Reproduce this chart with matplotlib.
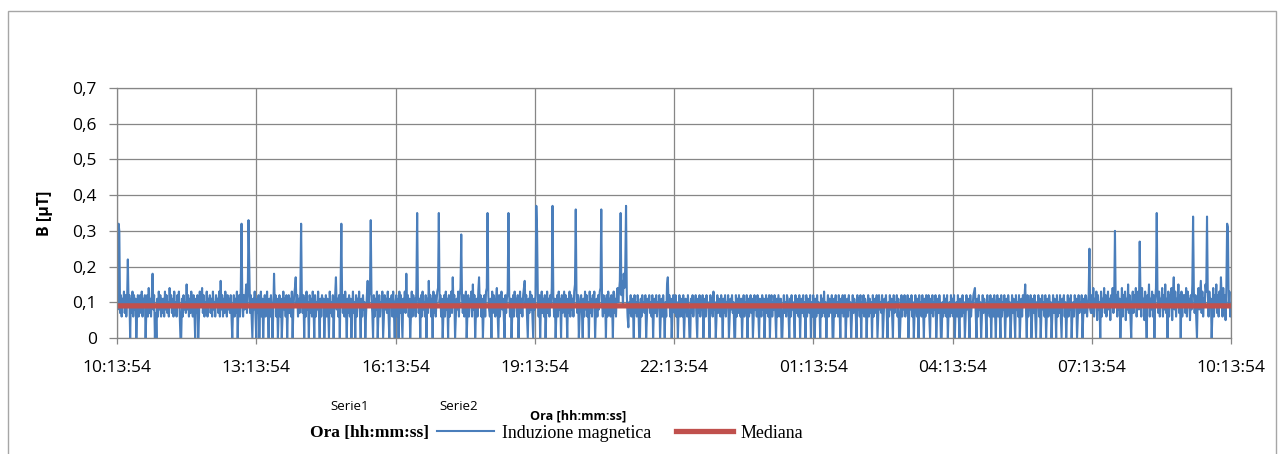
import numpy as np
import pandas as pd
import matplotlib
matplotlib.use('Agg')
import matplotlib.pyplot as plt
import matplotlib.dates as mdates
from matplotlib.ticker import FuncFormatter
from matplotlib.patches import Rectangle

# Start of the 24 h recording and sample step
START_TIME = '2012-01-01 10:13:54'
SAMPLE_STEP = '1min'

# Magnetic induction in hundredths of uT, two rows per hour (30 + 30 samples)
# 10:13:54 - 21:13:54
B_DAY_CENTI = [
    14, 8, 32, 30, 7, 12, 6, 11, 9, 13, 7, 12, 6, 10, 22, 9, 12, 0, 11, 7, 13, 6, 12, 8, 11, 0, 7, 12, 6, 10,
    12, 7, 13, 6, 11, 9, 12, 0, 8, 12, 6, 14, 7, 11, 6, 12, 18, 8, 12, 0, 7, 0, 11, 6, 13, 8, 12, 6, 11, 7,
    11, 6, 13, 8, 12, 7, 10, 6, 14, 9, 12, 7, 11, 6, 13, 8, 10, 6, 12, 9, 13, 7, 0, 0, 11, 6, 12, 8, 10, 7,
    15, 8, 12, 6, 11, 7, 13, 9, 6, 12, 8, 0, 11, 7, 12, 0, 6, 13, 9, 11, 14, 7, 12, 6, 10, 8, 13, 6, 11, 9,
    12, 7, 11, 6, 13, 8, 10, 6, 12, 9, 11, 7, 13, 6, 16, 8, 12, 6, 11, 7, 13, 9, 6, 12, 8, 11, 7, 12, 6, 0,
    8, 12, 6, 11, 7, 13, 0, 9, 12, 6, 14, 32, 10, 6, 12, 8, 11, 15, 7, 12, 33, 20, 7, 12, 6, 0, 11, 8, 13, 6,
    0, 11, 7, 12, 0, 9, 13, 6, 11, 0, 8, 12, 6, 10, 13, 7, 0, 11, 6, 12, 8, 0, 7, 18, 9, 12, 6, 11, 0, 8,
    12, 6, 11, 0, 7, 13, 8, 11, 6, 12, 0, 9, 12, 7, 11, 6, 13, 0, 8, 12, 14, 17, 9, 12, 6, 11, 7, 13, 32, 10,
    7, 12, 0, 11, 6, 13, 8, 10, 0, 12, 7, 11, 6, 13, 9, 0, 12, 6, 10, 8, 13, 7, 0, 11, 6, 12, 9, 11, 0, 7,
    12, 6, 11, 8, 0, 13, 7, 10, 6, 12, 0, 9, 12, 17, 8, 11, 6, 12, 0, 14, 32, 11, 7, 12, 6, 13, 8, 0, 11, 7,
    12, 6, 11, 0, 8, 13, 7, 10, 0, 12, 6, 11, 9, 13, 7, 0, 11, 6, 12, 8, 10, 0, 7, 12, 16, 9, 12, 13, 33, 11,
    7, 0, 12, 6, 11, 8, 13, 0, 7, 12, 6, 10, 9, 13, 0, 6, 12, 8, 11, 7, 13, 6, 0, 11, 9, 12, 6, 13, 7, 0,
    10, 12, 6, 11, 0, 13, 7, 12, 6, 0, 11, 8, 13, 7, 18, 9, 12, 6, 11, 0, 7, 13, 6, 12, 8, 11, 6, 14, 35, 12,
    7, 11, 0, 12, 6, 13, 8, 10, 6, 12, 0, 11, 7, 16, 9, 12, 6, 11, 0, 13, 7, 12, 6, 10, 13, 14, 35, 10, 12, 6,
    11, 0, 7, 12, 6, 13, 8, 11, 0, 12, 6, 10, 13, 7, 17, 9, 12, 0, 6, 11, 8, 13, 6, 12, 14, 29, 11, 7, 12, 6,
    10, 13, 0, 7, 12, 6, 11, 9, 13, 6, 15, 8, 12, 0, 7, 11, 6, 13, 17, 9, 12, 6, 11, 0, 8, 12, 6, 13, 14, 35,
    12, 8, 6, 11, 0, 13, 7, 12, 9, 6, 11, 14, 7, 0, 12, 6, 10, 13, 8, 11, 6, 0, 12, 7, 11, 13, 35, 12, 6, 11,
    0, 7, 12, 6, 13, 9, 11, 6, 12, 0, 8, 13, 7, 11, 6, 12, 14, 16, 9, 12, 6, 0, 11, 7, 13, 8, 12, 6, 0, 11,
    8, 12, 37, 30, 11, 6, 12, 0, 9, 13, 7, 11, 6, 12, 0, 8, 13, 7, 11, 6, 12, 9, 14, 37, 12, 6, 11, 0, 7, 12,
    6, 13, 8, 11, 0, 12, 7, 10, 13, 6, 12, 9, 0, 11, 7, 13, 6, 12, 8, 11, 6, 13, 15, 36, 11, 7, 12, 0, 6, 11,
    12, 7, 0, 11, 6, 13, 8, 12, 6, 10, 0, 13, 7, 11, 6, 12, 9, 13, 0, 7, 11, 6, 12, 8, 13, 14, 36, 10, 6, 12,
    7, 11, 0, 12, 6, 13, 8, 11, 6, 12, 9, 0, 13, 7, 11, 6, 12, 14, 10, 13, 16, 35, 12, 16, 9, 18, 14, 20, 37, 12,
]

# 21:13:54 - 07:13:54
B_NIGHT_CENTI = [
    6, 3, 10, 7, 12, 6, 11, 8, 0, 12, 7, 10, 6, 12, 9, 0, 0, 11, 6, 12, 8, 10, 7, 12, 0, 6, 11, 9, 12, 7,
    10, 6, 12, 0, 8, 11, 7, 12, 6, 10, 9, 12, 0, 7, 11, 6, 12, 8, 0, 10, 6, 15, 17, 9, 12, 6, 11, 0, 7, 12,
    11, 7, 12, 6, 10, 0, 8, 12, 6, 11, 9, 6, 12, 0, 7, 11, 10, 6, 12, 8, 0, 0, 11, 7, 12, 6, 10, 9, 12, 6,
    0, 11, 7, 12, 6, 10, 8, 12, 0, 7, 11, 6, 12, 9, 10, 6, 0, 12, 7, 11, 6, 13, 8, 10, 0, 6, 12, 7, 11, 9,
    6, 12, 8, 0, 11, 7, 12, 6, 10, 9, 12, 0, 6, 11, 8, 12, 7, 10, 0, 0, 12, 6, 11, 7, 12, 9, 6, 11, 0, 8,
    12, 6, 10, 7, 12, 0, 11, 6, 9, 12, 7, 11, 0, 6, 12, 8, 10, 6, 12, 7, 0, 11, 9, 6, 12, 8, 11, 0, 7, 12,
    7, 11, 6, 12, 0, 9, 12, 6, 10, 8, 12, 7, 0, 11, 6, 12, 9, 6, 11, 0, 0, 8, 12, 7, 10, 6, 12, 11, 7, 0,
    11, 6, 12, 8, 10, 6, 0, 12, 7, 11, 9, 6, 12, 0, 8, 11, 7, 12, 6, 10, 0, 12, 6, 11, 8, 7, 12, 0, 10, 6,
    12, 8, 0, 11, 6, 12, 7, 10, 9, 0, 12, 6, 11, 7, 13, 6, 10, 0, 8, 12, 6, 11, 9, 7, 12, 0, 0, 11, 6, 12,
    7, 10, 6, 12, 8, 0, 11, 7, 12, 6, 9, 12, 0, 7, 11, 6, 12, 8, 10, 0, 6, 12, 7, 11, 9, 6, 0, 12, 8, 11,
    6, 12, 0, 10, 7, 12, 6, 11, 9, 0, 8, 12, 6, 11, 7, 10, 0, 12, 6, 9, 11, 7, 12, 0, 6, 12, 8, 10, 7, 12,
    0, 6, 11, 9, 12, 7, 0, 10, 6, 12, 8, 11, 6, 0, 12, 7, 10, 9, 12, 6, 11, 0, 0, 7, 12, 6, 11, 8, 12, 6,
    10, 7, 12, 0, 6, 11, 8, 12, 6, 10, 0, 7, 12, 9, 6, 11, 0, 12, 7, 10, 6, 12, 8, 0, 11, 6, 12, 7, 9, 12,
    6, 0, 11, 7, 12, 6, 10, 8, 12, 0, 6, 11, 7, 12, 9, 0, 0, 10, 6, 12, 7, 11, 6, 12, 0, 8, 10, 6, 12, 7,
    11, 6, 12, 0, 8, 10, 6, 12, 7, 0, 11, 9, 6, 12, 7, 10, 0, 6, 12, 8, 11, 7, 0, 12, 6, 10, 9, 12, 13, 14,
    7, 0, 11, 6, 12, 8, 10, 0, 6, 12, 7, 11, 9, 6, 0, 12, 7, 10, 6, 12, 0, 8, 11, 6, 12, 7, 0, 10, 12, 6,
    11, 7, 0, 12, 6, 10, 8, 12, 0, 7, 11, 6, 12, 9, 10, 0, 6, 12, 7, 11, 6, 0, 12, 8, 10, 6, 12, 0, 7, 11,
    6, 12, 9, 11, 15, 7, 0, 12, 6, 10, 8, 12, 0, 6, 11, 7, 12, 6, 0, 10, 9, 12, 6, 11, 0, 7, 12, 8, 10, 6,
    12, 0, 7, 11, 6, 12, 9, 10, 0, 6, 12, 7, 11, 8, 0, 12, 6, 10, 7, 12, 6, 0, 11, 9, 12, 6, 10, 0, 7, 12,
    6, 11, 8, 12, 0, 7, 10, 6, 12, 9, 11, 0, 6, 12, 7, 10, 8, 12, 0, 6, 11, 7, 12, 9, 6, 10, 12, 25, 8, 7,
]

# 07:13:54 - 10:13:54
B_MORNING_CENTI = [
    12, 7, 14, 6, 11, 9, 13, 5, 12, 8, 10, 0, 13, 6, 11, 9, 14, 7, 12, 6, 10, 13, 8, 11, 5, 12, 9, 14, 7, 11,
    30, 9, 12, 6, 13, 8, 11, 0, 7, 14, 6, 12, 9, 13, 5, 11, 8, 15, 7, 12, 6, 0, 10, 13, 7, 12, 9, 14, 6, 11,
    13, 8, 27, 12, 6, 14, 9, 11, 5, 13, 7, 0, 12, 9, 15, 6, 11, 8, 13, 6, 12, 0, 10, 14, 35, 12, 7, 13, 6, 11,
    9, 14, 6, 12, 8, 15, 7, 11, 0, 13, 6, 12, 9, 14, 5, 12, 17, 8, 13, 6, 11, 9, 15, 7, 12, 0, 13, 6, 12, 9,
    12, 7, 14, 6, 13, 9, 11, 5, 12, 8, 15, 34, 13, 7, 12, 6, 0, 11, 14, 8, 12, 16, 7, 13, 6, 11, 9, 15, 13, 34,
    12, 6, 13, 9, 11, 0, 7, 14, 6, 12, 9, 15, 7, 12, 6, 13, 9, 17, 11, 6, 14, 8, 12, 5, 14, 32, 31, 9, 13, 6,
    9,
]

MEDIAN_UT = 0.09

b_field = np.array(B_DAY_CENTI + B_NIGHT_CENTI + B_MORNING_CENTI) / 100
times = pd.date_range(START_TIME, periods=len(b_field), freq=SAMPLE_STEP)
tick_times = pd.date_range(START_TIME, periods=9, freq='3h')

plt.rcParams['font.family'] = ['Open Sans', 'DejaVu Sans']
GREY = '#868686'

fig = plt.figure(figsize=(12.79, 4.54), dpi=100)
ax = fig.add_axes([117 / 1279, 1 - 338 / 454, 1114 / 1279, 250 / 454])

ax.plot(times, b_field, color='#4A7EBB', lw=1.5, label='Induzione magnetica')
ax.plot(times, np.full(len(times), MEDIAN_UT), color='#C0504D', lw=3.8,
        label='Mediana')

ax.set_xlim(tick_times[0], tick_times[-1])
ax.set_ylim(0, 0.7)
ax.set_xticks(tick_times)
ax.xaxis.set_major_formatter(mdates.DateFormatter('%H:%M:%S'))
ax.set_yticks(np.arange(0, 0.71, 0.1))
ax.yaxis.set_major_formatter(
    FuncFormatter(lambda v, p: '0' if v == 0 else f'{v:.1f}'.replace('.', ',')))

ax.grid(True, color=GREY, lw=0.9)
ax.set_axisbelow(True)
for spine in ax.spines.values():
    spine.set_color(GREY)
    spine.set_linewidth(0.9)
ax.tick_params(axis='x', direction='out', length=4, width=0.9, color=GREY,
               pad=12, labelsize=12.5)
ax.tick_params(axis='y', direction='out', length=5.5, width=0.9, color=GREY,
               pad=9, labelsize=12.5)

ax.set_ylabel('B [µT]', fontsize=11.5, fontweight='bold', va='center')
ax.yaxis.set_label_coords((45 - 117) / 1114, 0.5)

# Frame round the whole chart
fig.patches.append(Rectangle((7.5 / 1279, -0.1), 1268 / 1279, 1.1 - 11 / 454,
                             transform=fig.transFigure, fill=False,
                             edgecolor='#A6A6A6', lw=1.0))

# Leftover legend texts
fig.text(350 / 1279, 1 - 407 / 454, 'Serie1', ha='center', va='center',
         fontsize=9.5)
fig.text(459 / 1279, 1 - 406 / 454, 'Serie2', ha='center', va='center',
         fontsize=9.5)
fig.text(578.5 / 1279, 1 - 416 / 454, 'Ora [hh:mm:ss]', ha='center',
         va='center', fontsize=9.1, fontweight='bold')
fig.text(369 / 1279, 1 - 433 / 454, 'Ora [hh:mm:ss]', ha='center',
         va='center', fontsize=12.5, fontweight='bold',
         family='Liberation Serif')

fig.legend(loc='center left', bbox_to_anchor=(437 / 1279, 1 - 433 / 454),
           ncol=2, frameon=False, borderpad=0, borderaxespad=0,
           handlelength=3.2, handletextpad=0.4, columnspacing=1.4,
           prop={'family': 'Liberation Serif', 'size': 12.9})

fig.savefig('out.png', dpi=100)
